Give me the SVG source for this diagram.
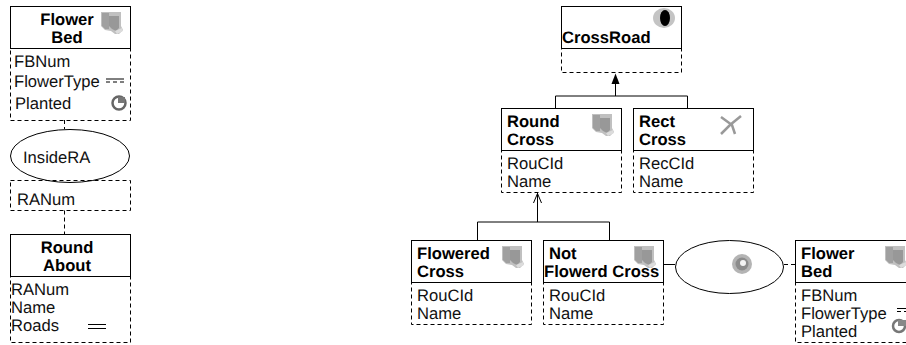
<svg xmlns="http://www.w3.org/2000/svg" xmlns:xlink="http://www.w3.org/1999/xlink" width="906" height="345" viewBox="0 0 906 345">
<style>
text{font-family:"Liberation Sans",Arial,sans-serif;font-size:16.6px;fill:#111;text-rendering:geometricPrecision}
.b{font-weight:bold;fill:#000}
.m{text-anchor:middle}
.h{fill:#fff;stroke:#000;stroke-width:1}
.s{fill:none;stroke:#000;stroke-width:1}
.d{fill:none;stroke:#000;stroke-width:1;stroke-dasharray:4 3}
</style>
<defs>
<filter id="bl" x="-20%" y="-20%" width="140%" height="140%"><feGaussianBlur stdDeviation="0.55"/></filter>
<g id="flower" filter="url(#bl)">
<path d="M0 0H20V14L22 18L18 22H14L10 19L4 18L0 14Z" fill="#c0c0c0"/>
<path d="M1 1H8V17L4 17L1 14Z" fill="#a0a0a0"/>
<path d="M8 4H18V16L15 19L11 17L8 14Z" fill="#989898"/>
<path d="M14 19L21 16L22 19L16 22Z" fill="#dcdcdc"/>
</g>
</defs>
<g id="connectors">
<path class="d" d="M64.500 120V129M64.500 210.500V234"/>
<path class="s" d="M615.500 84V96M555.500 108V96H687.500V108"/>
<path fill="#000" d="M615.500 73.500L619.500 84H611.500Z"/>
<path class="s" d="M537.500 222V193M477.500 240V222H609.500V240M533.500 203L537.500 193.500L541.500 203"/>
<path class="s" d="M663.500 264.500H675"/>
<path class="d" d="M784 264.500H795"/>
</g>
<g id="flowerbed-left">
<rect class="h" x="10.500" y="6.500" width="120" height="42"/>
<text class="b m" x="67" y="25">Flower</text><text class="b m" x="67" y="43">Bed</text>
<use xlink:href="#flower" x="101" y="12"/>
<rect class="d" x="10.500" y="48.500" width="120" height="72"/>
<text x="14" y="67">FBNum</text><text x="14" y="87">FlowerType</text><text x="15" y="108.500">Planted</text>
<path class="s" d="M106 79H124"/><path class="d" d="M106 82H124"/>
<g filter="url(#bl)"><circle cx="119" cy="103" r="6.500" fill="none" stroke="#666" stroke-width="2.500"/><path d="M118 97H125V103H118Z" fill="#777"/></g>
</g>
<g id="insidera">
<ellipse class="h" cx="70" cy="156" rx="59.500" ry="26.500"/>
<text x="23" y="163">InsideRA</text>
</g>
<g id="ranum">
<rect class="d" x="10.500" y="180.500" width="120" height="30"/>
<text x="17" y="205">RANum</text>
</g>
<g id="roundabout">
<rect class="h" x="10.500" y="234.500" width="120" height="42"/>
<text class="b m" x="67" y="253">Round</text><text class="b m" x="67" y="271">About</text>
<rect class="d" x="10.500" y="276.500" width="120" height="66"/>
<text x="11" y="295">RANum</text><text x="11" y="313">Name</text><text x="11" y="331">Roads</text>
<path class="s" d="M88 324.500H106M88 328.500H106"/>
</g>
<g id="crossroad">
<rect class="h" x="561.500" y="6.500" width="120" height="42"/>
<text class="b" x="562" y="43">CrossRoad</text>
<g filter="url(#bl)"><ellipse cx="664" cy="18" rx="11" ry="10" fill="#c4c4c4"/><ellipse cx="665" cy="18" rx="5" ry="8" fill="#000"/></g>
<rect class="d" x="561.500" y="48.500" width="120" height="24"/>
</g>
<g id="roundcross">
<rect class="h" x="501.500" y="108.500" width="120" height="42"/>
<text class="b" x="507" y="127">Round</text><text class="b" x="507" y="145">Cross</text>
<use xlink:href="#flower" x="592" y="114"/>
<rect class="d" x="501.500" y="150.500" width="120" height="42"/>
<text x="507" y="169">RouCId</text><text x="507" y="187">Name</text>
</g>
<g id="rectcross">
<rect class="h" x="633.500" y="108.500" width="120" height="42"/>
<text class="b" x="639" y="127">Rect</text><text class="b" x="639" y="145">Cross</text>
<g filter="url(#bl)"><path d="M721 134L730 125L741 116M721 117L732 125L735 134" fill="none" stroke="#999" stroke-width="2.500"/></g>
<rect class="d" x="633.500" y="150.500" width="120" height="42"/>
<text x="639" y="169">RecCId</text><text x="639" y="187">Name</text>
</g>
<g id="floweredcross">
<rect class="h" x="411.500" y="240.500" width="120" height="42"/>
<text class="b" x="417" y="259">Flowered</text><text class="b" x="417" y="277">Cross</text>
<use xlink:href="#flower" x="502" y="246"/>
<rect class="d" x="411.500" y="282.500" width="120" height="42"/>
<text x="417" y="301">RouCId</text><text x="417" y="319">Name</text>
</g>
<g id="notflowerdcross">
<rect class="h" x="543.500" y="240.500" width="120" height="42"/>
<use xlink:href="#flower" x="634" y="246"/>
<text class="b" x="549" y="259">Not</text><text class="b" x="544" y="277">Flowerd Cross</text>
<rect class="d" x="543.500" y="282.500" width="120" height="42"/>
<text x="549" y="301">RouCId</text><text x="549" y="319">Name</text>
</g>
<g id="relationship">
<ellipse class="h" cx="729.500" cy="267" rx="54" ry="26.500"/>
<g filter="url(#bl)"><circle cx="742" cy="264" r="10" fill="#b4b4b4"/><circle cx="742" cy="264" r="6.500" fill="#8c8c8c"/><circle cx="743" cy="263" r="3" fill="#f4f4f4"/></g>
</g>
<g id="flowerbed-right">
<rect class="h" x="795.500" y="240.500" width="120" height="42"/>
<text class="b" x="801" y="259">Flower</text><text class="b" x="801" y="277">Bed</text>
<use xlink:href="#flower" x="885" y="246"/>
<rect class="d" x="795.500" y="282.500" width="120" height="60"/>
<text x="801" y="301">FBNum</text><text x="801" y="319">FlowerType</text><text x="801" y="337">Planted</text>
<path class="s" d="M897 308.500H906"/><path class="d" d="M897 311.500H906"/>
<g filter="url(#bl)"><circle cx="899" cy="326" r="6" fill="none" stroke="#777" stroke-width="2.500"/><path d="M898 320H906V326H898Z" fill="#888"/></g>
</g>
</svg>
